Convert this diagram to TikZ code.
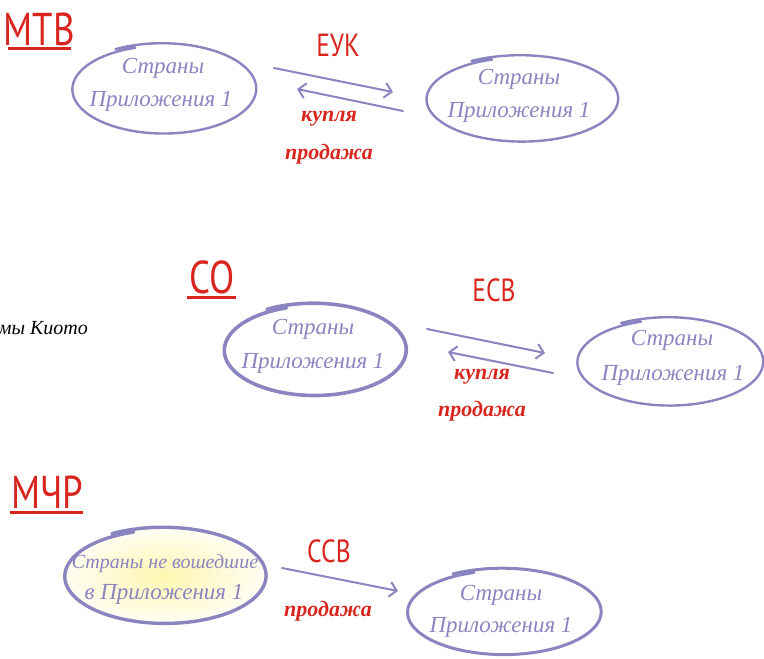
\documentclass[tikz,border=0pt]{standalone}
\usepackage{fontspec}
\setmainfont{Liberation Serif}
\newfontfamily\hand{Liberation Serif}
\newfontfamily\lab[FakeStretch=0.8]{PT Sans}
\usetikzlibrary{arrows.meta,shapes.geometric}
\definecolor{lav}{HTML}{8A85C0}
\definecolor{redl}{HTML}{D8261E}
\definecolor{yel}{HTML}{FFF6B0}
\tikzset{
  loopline/.style={draw=lav,line cap=round,line join=round},
  zone/.style={ellipse,inner sep=0pt},
  intext/.style={text=lav,font=\hand\itshape\fontsize{23}{26}\selectfont,inner sep=0pt,anchor=base},
  title/.style={text=redl,font=\lab\fontsize{46}{50}\selectfont,inner sep=0pt},
  acr/.style={text=redl,font=\lab\fontsize{32}{36}\selectfont,inner sep=0pt},
  deal/.style={text=redl,font=\hand\bfseries\itshape\fontsize{22}{24}\selectfont,inner sep=0pt},
  uline/.style={draw=redl,line width=3pt},
  flow/.style={draw=lav,line width=2pt,line cap=round,-{Straight Barb[length=7pt,width=15pt,line width=2pt]}},
}
\newcommand{\handloop}[5]{%
  \draw[loopline,line width=#5] plot[smooth,domain=0:372,samples=60]
    ({#1+#3*(1-0.00016*\x)*cos(120-\x)},{#2-#4*(1-0.00016*\x)*sin(120-\x)});}
\begin{document}
\begin{tikzpicture}[x=1pt,y=-1pt]
\useasboundingbox (0,0) rectangle (764,659);
% ---------- section 1 ----------
\node[title] (t1) at (39,29) {МТВ};
\draw[uline] (8,48) -- (71,48);
\node[zone,minimum width=190pt,minimum height=92pt] (e1) at (163,89) {};
\handloop{163}{89}{95}{46}{2.4pt}
\node[intext] (e1a) at (163,73) {Страны};
\node[intext] (e1b) at (161,106) {Приложения 1};
\node[zone,minimum width=198pt,minimum height=88pt] (e2) at (521,99) {};
\handloop{521}{99}{99}{44}{2.4pt}
\node[intext] (e2a) at (519,84) {Страны};
\node[intext] (e2b) at (519,117) {Приложения 1};
\coordinate (a1s) at (274,68);
\coordinate (a1e) at (393,92);
\coordinate (b1s) at (403,111);
\coordinate (b1e) at (297,89);
\draw[flow] (a1s) -- (a1e);
\draw[flow] (b1s) -- (b1e);
\node[acr] (l1) at (338,45) {ЕУК};
\node[deal] (k1) at (329,119) {купля};
\node[deal] (p1) at (329,154) {продажа};
% ---------- section 2 ----------
\node[title] (t2) at (212,277) {СО};
\draw[uline] (187,297) -- (236,297);
\node[text=black,font=\hand\itshape\fontsize{20}{22}\selectfont,anchor=east,inner sep=0pt] (ky) at (88,328) {мы Киото};
\node[zone,minimum width=188pt,minimum height=94pt] (e3) at (314,350) {};
\handloop{314}{350}{94}{47}{3.6pt}
\node[intext] (e3a) at (313,334) {Страны};
\node[intext] (e3b) at (313,368) {Приложения 1};
\node[zone,minimum width=192pt,minimum height=90pt] (e4) at (669,362) {};
\handloop{669}{362}{96}{45}{2.4pt}
\node[intext] (e4a) at (672,345) {Страны};
\node[intext] (e4b) at (673,380) {Приложения 1};
\coordinate (a2s) at (427,329);
\coordinate (a2e) at (545,353);
\coordinate (b2s) at (553,373);
\coordinate (b2e) at (448,352);
\draw[flow] (a2s) -- (a2e);
\draw[flow] (b2s) -- (b2e);
\node[acr] (l2) at (494,290) {ЕСВ};
\node[deal] (k2) at (482,377) {купля};
\node[deal] (p2) at (482,411) {продажа};
% ---------- section 3 ----------
\node[title] (t3) at (47,492) {МЧР};
\draw[uline] (10,512) -- (83,512);
\shade[inner color=yel,outer color=yel!15] (164,576) ellipse [x radius=102pt,y radius=48pt];
\node[zone,minimum width=208pt,minimum height=98pt] (e5) at (164,576) {};
\handloop{164}{576}{104}{49}{3.4pt}
\node[intext,font=\hand\itshape\fontsize{20}{24}\selectfont] (e5a) at (165,568) {Страны не вошедшие};
\node[intext] (e5b) at (164,599) {в Приложения 1};
\node[zone,minimum width=200pt,minimum height=88pt] (e6) at (503,612) {};
\handloop{503}{612}{100}{44}{3pt}
\node[intext] (e6a) at (501,600) {Страны};
\node[intext] (e6b) at (501,632) {Приложения 1};
\coordinate (a3s) at (282,568);
\coordinate (a3e) at (398,591);
\draw[flow] (a3s) -- (a3e);
\node[acr] (l3) at (329,551) {ССВ};
\node[deal] (p3) at (328,611) {продажа};
\end{tikzpicture}
\end{document}
